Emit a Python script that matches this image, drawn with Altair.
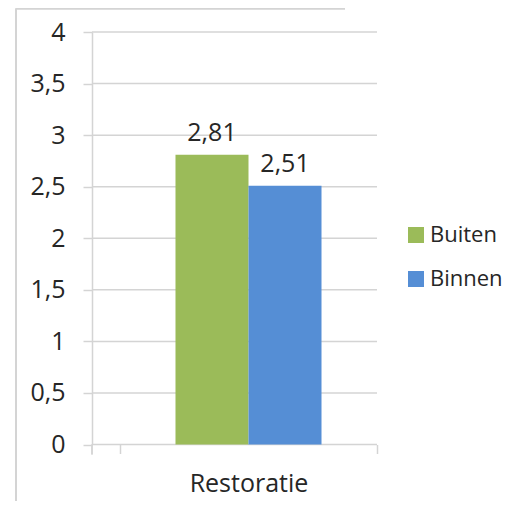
import altair as alt
import pandas as pd

categories = ["Restoratie", "Restoratie"]
series = ["Buiten", "Binnen"]
values = [2.81, 2.51]
labels = ["2,81", "2,51"]
colors = ["#9BBB59", "#558ED5"]
y_ticks = [0, 0.5, 1, 1.5, 2, 2.5, 3, 3.5, 4]

df = pd.DataFrame({"cat": categories, "series": series, "value": values, "label": labels})
grid_df = pd.DataFrame({"value": y_ticks})

FONT = "Open Sans"
FS = 25
TXT = "#262626"
W, H = 285, 412.5
GRID = "#d4d4d4"

x_scale = alt.Scale(range=[28, W], paddingInner=0, paddingOuter=0)
y_scale = alt.Scale(domain=[0, 4], nice=False)

x_enc = alt.X("cat:N", title=None, scale=x_scale,
              axis=alt.Axis(domain=False, tickBand="extent", tickColor=GRID, tickWidth=1.5,
                            tickSize=9, labelAngle=0, labelFontSize=FS, labelColor=TXT,
                            labelFont=FONT, labelPadding=18, grid=False))
xoff = alt.XOffset("series:N", sort=series,
                   scale=alt.Scale(paddingOuter=0.76, paddingInner=0))

grid = alt.Chart(grid_df).mark_rule(color=GRID, strokeWidth=1.5).encode(
    y=alt.Y("value:Q", scale=y_scale), x=alt.value(0), x2=alt.value(W))

bars = alt.Chart(df).mark_bar().encode(
    x=x_enc,
    xOffset=xoff,
    y=alt.Y("value:Q", title=None, scale=y_scale,
            axis=alt.Axis(values=y_ticks,
                          labelExpr="replace(toString(datum.value), '.', ',')",
                          labelFontSize=FS, labelFont=FONT, labelColor=TXT,
                          labelPadding=18, tickSize=9, tickColor=GRID, tickWidth=1.5,
                          domainColor=GRID, domainWidth=1.5, grid=False)),
    color=alt.Color("series:N", sort=series,
                    scale=alt.Scale(domain=series, range=colors),
                    legend=alt.Legend(title=None, orient="none", legendX=313, legendY=192,
                                      padding=0, symbolType="square", symbolSize=256,
                                      symbolStrokeWidth=0,
                                      labelFontSize=22, labelFont=FONT, labelColor=TXT,
                                      labelOffset=3, rowPadding=22, labelLimit=200)),
)

text = alt.Chart(df).mark_text(baseline="bottom", dy=-9, fontSize=FS, font=FONT,
                               color=TXT).encode(
    x=alt.X("cat:N", scale=x_scale),
    xOffset=xoff,
    y=alt.Y("value:Q", scale=y_scale),
    text="label:N",
)

frame_left = alt.Chart(df).mark_rule(color=GRID, strokeWidth=2).encode(
    x=alt.value(-76), y=alt.value(-23.5), y2=alt.value(480))
frame_top = alt.Chart(df).mark_rule(color=GRID, strokeWidth=2).encode(
    x=alt.value(-76), x2=alt.value(253), y=alt.value(-23.5))
left_tick = alt.Chart(df).mark_rule(color=GRID, strokeWidth=1.5).encode(
    x=alt.value(0), y=alt.value(H), y2=alt.value(H + 10))

chart = alt.layer(frame_left, frame_top, grid, bars, text, left_tick).properties(
    width=W, height=H,
    autosize=alt.AutoSizeParams(type="none"),
    padding={"left": 84, "top": 24, "right": 134, "bottom": 56},
).configure_view(stroke=None)

chart.save("out.html", embed_options={"renderer": "svg", "actions": False})
